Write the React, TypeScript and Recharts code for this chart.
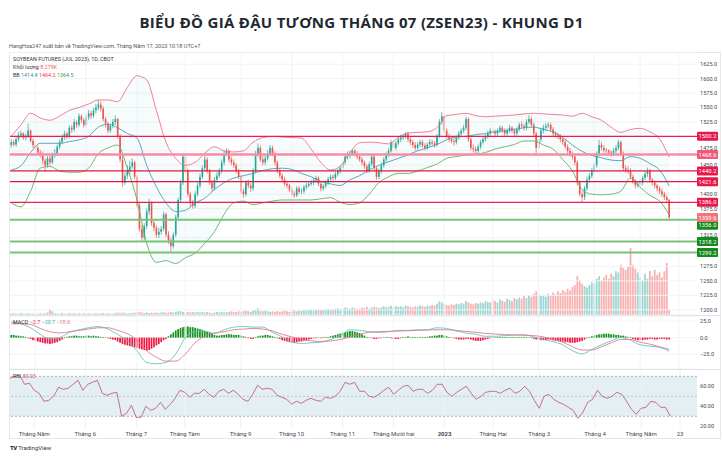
import React from 'react';
import { ComposedChart, Bar, Line, Area, XAxis, YAxis, CartesianGrid, ReferenceLine, ReferenceArea } from 'recharts';

// ---------------- data ----------------
const opens = [
1485,1490,1486,1495,1502,1505,1498,1500,1510,1492,
1485,1480,1472,1470,1458,1450,1462,1455,1468,1470,
1482,1490,1498,1505,1500,1515,1512,1525,1520,1535,
1528,1520,1533,1540,1536,1545,1550,1555,1548,1530,
1522,1510,1518,1525,1530,1500,1460,1420,1432,1440,
1448,1455,1430,1380,1340,1325,1345,1370,1385,1350,
1342,1330,1335,1340,1365,1330,1320,1310,1330,1360,
1390,1420,1465,1440,1400,1385,1380,1400,1415,1430,
1445,1460,1440,1420,1410,1425,1432,1440,1455,1470,
1475,1460,1455,1450,1440,1430,1405,1400,1420,1415,
1410,1440,1470,1480,1460,1455,1462,1470,1480,1470,
1455,1440,1432,1425,1418,1415,1408,1400,1398,1410,
1404,1405,1412,1415,1418,1420,1424,1428,1418,1410,
1414,1420,1426,1430,1428,1435,1440,1445,1455,1465,
1468,1470,1475,1470,1465,1460,1455,1448,1440,1452,
1465,1445,1430,1440,1450,1460,1468,1475,1490,1480,
1488,1495,1498,1500,1505,1495,1490,1485,1480,1486,
1490,1484,1480,1486,1490,1488,1485,1500,1525,1535,
1510,1500,1495,1492,1490,1498,1505,1510,1515,1530,
1495,1480,1478,1475,1482,1490,1495,1500,1505,1510,
1508,1505,1510,1515,1510,1505,1510,1515,1510,1505,
1512,1520,1518,1515,1525,1530,1520,1505,1480,1495,
1510,1515,1518,1520,1512,1505,1502,1500,1495,1490,
1482,1475,1470,1465,1455,1420,1400,1395,1410,1425,
1432,1440,1450,1470,1485,1480,1476,1475,1472,1470,
1475,1480,1490,1470,1445,1442,1440,1430,1422,1415,
1418,1420,1428,1435,1440,1425,1420,1415,1410,1405,
1400,1395,1390];

const highs = [
1496,1494,1499,1508,1510,1507,1505,1522,1512,1496,
1490,1484,1477,1474,1462,1466,1466,1472,1478,1486,
1495,1503,1510,1508,1519,1520,1530,1528,1540,1538,
1532,1537,1546,1544,1549,1556,1563,1560,1552,1534,
1525,1522,1530,1536,1532,1504,1466,1438,1450,1458,
1462,1458,1434,1385,1346,1350,1375,1392,1388,1356,
1346,1342,1345,1370,1368,1336,1325,1334,1364,1394,
1425,1471,1468,1444,1404,1390,1405,1420,1436,1450,
1466,1464,1444,1424,1430,1438,1445,1460,1476,1480,
1478,1465,1460,1454,1444,1434,1410,1424,1425,1420,
1445,1475,1488,1484,1466,1468,1476,1485,1484,1474,
1458,1445,1436,1430,1422,1418,1412,1405,1414,1414,
1410,1416,1420,1422,1425,1428,1432,1431,1422,1418,
1424,1430,1434,1434,1440,1444,1450,1460,1470,1474,
1475,1478,1478,1474,1468,1464,1458,1452,1456,1468,
1468,1448,1444,1455,1464,1472,1480,1494,1494,1492,
1500,1503,1504,1507,1508,1500,1494,1490,1490,1494,
1494,1488,1490,1495,1494,1492,1504,1530,1542,1538,
1514,1505,1500,1497,1502,1509,1514,1520,1534,1533,
1498,1486,1483,1486,1494,1499,1504,1510,1515,1514,
1512,1514,1519,1518,1514,1514,1520,1518,1514,1516,
1524,1526,1522,1530,1537,1534,1524,1508,1499,1515,
1520,1523,1524,1524,1516,1509,1506,1504,1498,1494,
1486,1480,1474,1468,1458,1424,1406,1414,1430,1437,
1445,1455,1474,1494,1490,1485,1480,1478,1476,1480,
1485,1494,1493,1474,1450,1448,1445,1434,1426,1422,
1425,1432,1440,1446,1444,1428,1424,1418,1414,1410,
1404,1398,1392];

const lows = [
1480,1483,1482,1491,1498,1494,1493,1497,1489,1480,
1475,1468,1463,1452,1439,1446,1450,1452,1463,1466,
1478,1486,1494,1495,1497,1506,1508,1515,1516,1523,
1515,1517,1528,1530,1532,1540,1545,1543,1526,1515,
1505,1506,1514,1520,1496,1455,1413,1416,1426,1434,
1444,1426,1376,1335,1318,1320,1340,1364,1345,1336,
1325,1324,1330,1336,1326,1314,1301,1306,1326,1355,
1386,1416,1436,1396,1378,1375,1376,1396,1410,1426,
1440,1436,1416,1405,1406,1420,1428,1436,1450,1466,
1455,1450,1445,1436,1426,1400,1394,1396,1410,1404,
1406,1436,1465,1456,1450,1450,1458,1466,1466,1450,
1436,1428,1420,1414,1410,1404,1396,1394,1395,1400,
1400,1401,1408,1411,1414,1416,1420,1414,1405,1406,
1410,1416,1422,1424,1424,1431,1436,1441,1451,1460,
1462,1466,1466,1460,1456,1450,1444,1436,1437,1448,
1440,1425,1426,1436,1446,1455,1464,1472,1476,1476,
1484,1490,1493,1496,1490,1485,1480,1476,1476,1482,
1480,1476,1477,1482,1484,1480,1482,1497,1520,1505,
1496,1490,1488,1484,1486,1494,1501,1506,1511,1490,
1476,1472,1470,1471,1478,1486,1491,1496,1500,1503,
1500,1501,1506,1506,1500,1501,1506,1506,1500,1501,
1508,1514,1510,1511,1521,1516,1500,1471,1476,1490,
1505,1510,1514,1508,1500,1498,1495,1490,1485,1478,
1470,1465,1460,1450,1415,1396,1385,1390,1406,1420,
1428,1436,1446,1466,1476,1472,1470,1467,1465,1466,
1470,1476,1466,1440,1437,1435,1426,1418,1410,1411,
1414,1415,1424,1430,1420,1415,1410,1405,1400,1395,
1390,1385,1357];

const closes = [
1490,1486,1495,1502,1505,1498,1500,1510,1492,1485,
1480,1472,1470,1458,1450,1462,1455,1468,1470,1482,
1490,1498,1505,1500,1515,1512,1525,1520,1535,1528,
1520,1533,1540,1536,1545,1550,1555,1548,1530,1522,
1510,1518,1525,1530,1500,1460,1420,1432,1440,1448,
1455,1430,1380,1340,1325,1345,1370,1385,1350,1342,
1330,1335,1340,1365,1330,1320,1310,1330,1360,1390,
1420,1465,1440,1400,1385,1380,1400,1415,1430,1445,
1460,1440,1420,1410,1425,1432,1440,1455,1470,1475,
1460,1455,1450,1440,1430,1405,1400,1420,1415,1410,
1440,1470,1480,1460,1455,1462,1470,1480,1470,1455,
1440,1432,1425,1418,1415,1408,1400,1398,1410,1404,
1405,1412,1415,1418,1420,1424,1428,1418,1410,1414,
1420,1426,1430,1428,1435,1440,1445,1455,1465,1468,
1470,1475,1470,1465,1460,1455,1448,1440,1452,1465,
1445,1430,1440,1450,1460,1468,1475,1490,1480,1488,
1495,1498,1500,1505,1495,1490,1485,1480,1486,1490,
1484,1480,1486,1490,1488,1485,1500,1525,1535,1510,
1500,1495,1492,1490,1498,1505,1510,1515,1530,1495,
1480,1478,1475,1482,1490,1495,1500,1505,1510,1508,
1505,1510,1515,1510,1505,1510,1515,1510,1505,1512,
1520,1518,1515,1525,1530,1520,1505,1480,1495,1510,
1515,1518,1520,1512,1505,1502,1500,1495,1490,1482,
1475,1470,1465,1455,1420,1400,1395,1410,1425,1432,
1440,1450,1470,1485,1480,1476,1475,1472,1470,1475,
1480,1490,1470,1445,1442,1440,1430,1422,1415,1418,
1420,1428,1435,1440,1425,1420,1415,1410,1405,1400,
1395,1390,1359.6];

// volume in thousands of contracts
const volumesK = [
2,3,2,2,3,2,2,3,2,2,
2,2,3,2,3,4,9,6,3,2,
2,3,2,2,3,2,3,2,3,2,
3,2,3,2,2,3,2,3,3,2,
3,2,2,3,4,3,4,3,2,3,
3,4,4,5,4,3,4,3,4,3,
4,3,4,5,3,4,5,4,5,6,
6,5,4,5,4,5,4,5,4,5,
4,5,4,3,4,5,4,5,4,5,
5,6,5,5,6,5,6,7,6,5,
7,8,11,7,6,7,6,5,6,5,
6,5,6,7,6,5,6,7,6,7,
7,8,7,9,8,7,8,9,8,9,
9,10,8,9,10,11,9,10,12,11,
10,12,11,9,10,12,11,13,10,12,
13,12,11,12,14,12,13,15,12,14,
13,14,12,15,14,13,12,14,13,15,
14,13,15,14,16,15,18,22,20,18,
16,15,17,16,18,17,19,18,22,20,
18,17,19,18,20,19,22,21,20,24,
22,20,25,23,21,26,24,22,27,25,
28,26,30,27,32,29,34,38,33,30,
32,29,34,31,36,33,38,35,40,37,
42,39,45,48,62,55,50,46,44,48,
52,50,58,62,55,60,64,58,66,62,
70,68,80,75,72,78,107,80,74,68,
60,55,66,58,70,62,72,64,68,60,
70,83,8.279];

// Bollinger Bands, read every 4th bar
const BB_STEP = 4;
const bbUpper = [1500,1520,1540,1532,1528,1535,1545,1550,1556,1563,1563,1560,1585,1605,1598,1545,1490,1462,1450,1455,1471,1482,1475,1473,1475,1490,1498,1500,1499,1498,1497,1478,1455,1442,1448,1472,1489,1490,1489,1487,1498,1506,1507,1508,1515,1536,1538,1540,1536,1534,1535,1536,1537,1539,1540,1539,1538,1537,1535,1540,1534,1528,1516,1507,1512,1514,1508,1496,1464.2];
const bbBasis = [1442,1449,1472,1488,1488,1488,1491,1494,1500,1516,1521,1515,1505,1497,1450,1413,1385,1370,1372,1385,1393,1408,1420,1428,1432,1436,1441,1444,1445,1443,1436,1430,1422,1418,1415,1425,1432,1442,1450,1456,1462,1468,1475,1480,1486,1494,1499,1500,1503,1505,1508,1510,1512,1515,1516,1512,1508,1498,1485,1474,1467,1463,1459,1458,1465,1462,1453,1442,1414.4];
const bbLower = [1385,1378,1405,1445,1448,1440,1438,1438,1445,1470,1480,1485,1445,1390,1315,1282,1285,1280,1290,1298,1315,1335,1365,1385,1388,1382,1385,1388,1390,1390,1390,1390,1392,1394,1386,1382,1385,1400,1420,1430,1436,1436,1440,1446,1452,1462,1465,1468,1469,1472,1478,1482,1486,1492,1492,1485,1478,1460,1440,1408,1400,1399,1400,1405,1428,1412,1398,1388,1364.5];

// MACD, read every 4th bar; histogram per bar
const MACD_STEP = 4;
const macdLine = [24,21,15,5,-2,0,8,12,15,17,13,5,-5,-20,-38,-40,-38,-25,0,9,10,6,12,16,17,16,16,8,1,-7,-9,-8,-7,-3,3,12,11,9,8,9,11,11,12,12,15,14,10,7,5,2,2,3,4,4.5,1,-3,-6,-11,-20,-25,-18,-11,-5,0,-4,-11,-13,-15,-20.7];
const signalLine = [21,21,20,14,9,7,9,11,13,15,15,11,6,-4,-20,-30,-36,-36,-25,-8,2,7,9,12,13,14,13,10,5,1,-3,-5,-6,-5,-3,1,5,8,9,9.5,10,10.5,11,11.5,12,12,11,9.5,8,6.5,5.5,4.5,4,3.5,3,1,-3,-7,-14,-19,-19,-14,-8,-3,-3,-7,-10,-14,-18];
const macdHist = [
4,4,3,3,2,2,1,-1,-2,-4,
-5,-6,-7,-8,-9,-9,-10,-9,-8,-7,
-5,-3,-1,1,2,2,3,3,2,2,
2,3,3,2,3,2,2,1,1,0,
-1,-2,-3,-4,-6,-8,-10,-11,-12,-13,
-14,-15,-16,-17,-18,-19,-20,-19,-17,-15,
-12,-10,-7,-4,-2,2,5,8,11,13,
15,16,17,17,16,16,15,14,13,12,
10,9,8,6,4,3,3,4,4,5,
5,5,4,4,4,3,2,1,-1,-2,
-2,1,2,3,3,4,4,3,2,1,
-1,-2,-4,-5,-6,-7,-8,-8,-7,-6,
-6,-5,-4,-3,-2,-1,-1,0,-1,1,
1,1,2,3,4,5,6,7,8,9,
10,10,9,8,7,5,3,1,0,-1,
-2,-2,-1,-1,0,1,1,-1,-2,-2,
-2,-1,1,1,2,1,1,1,0,1,
1,1,1,2,2,3,3,4,4,3,
2,1,0,-1,-2,-3,-3,-3,-2,-2,
-3,-4,-5,-5,-5,-4,-3,-2,-1,-1,
0,1,1,1,1,1,1,1,1,1,
1,1,1,1,0,-1,-2,-3,-3,-4,
-4,-4,-3,-3,-4,-5,-5,-6,-6,-7,
-7,-8,-8,-8,-7,-6,-5,-3,-1,1,
2,3,4,5,5,6,6,6,5,5,
4,4,3,3,2,1,-1,-2,-3,-4,
-4,-4,-3,-3,-2,-2,-3,-3,-2,-2,
-2,-3,-2.7];

// RSI, read every 2nd bar
const RSI_STEP = 2;
const rsiValues = [
68,70,71,62,63,56,53,45,46,50,
59,57,58,62,66,56,62,64,66,53,
51,53,54,30,33,41,29,29,40,36,
38,44,37,42,48,56,54,49,53,53,
57,52,49,55,57,53,56,52,47,45,
52,61,57,58,57,51,49,47,42,45,
43,46,48,46,45,49,48,50,55,64,
62,64,55,55,50,49,52,56,59,52,
56,60,61,55,57,57,53,56,62,62,
54,50,54,57,60,53,47,50,54,55,
55,53,56,58,53,55,60,55,46,38,
50,52,47,44,42,39,36,28,34,44,
47,56,50,48,50,54,52,45,37,32,
38,39,45,44,39,39,30.03];

const TOTAL_SLOTS = 284; // 273 daily bars + empty space to the right
const monthTicks = [10, 31, 52, 72, 95, 116, 137, 158, 179, 199, 218, 241, 260, 276];
const monthLabels = ['Tháng Năm', 'Tháng 6', 'Tháng 7', 'Tháng Tám', 'Tháng 9', 'Tháng 10', 'Tháng 11', 'Tháng Mười hai', '2023', 'Tháng Hai', 'Tháng 3', 'Tháng 4', 'Tháng Năm', '23'];
const priceTicks = [1200, 1225, 1250, 1275, 1325, 1375, 1400, 1450, 1475, 1525, 1550, 1575, 1600, 1625];
const resistanceLevels = [1500.2, 1468.6, 1440.2, 1421.6, 1386.0];
const supportLevels = [1356.0, 1318.2, 1299.2];
const macdTicks = [-25, 0, 25];
const rsiTicks = [20, 40, 60];

// ---------------- table ----------------
const rows = Array.from({ length: TOTAL_SLOTS }, (_, i) => {
  const r: any = { i };
  if (i < closes.length) {
    r.o = opens[i]; r.h = highs[i]; r.l = lows[i]; r.c = closes[i];
    r.vol = volumesK[i]; r.hist = macdHist[i];
  }
  if (i % BB_STEP === 0 && i / BB_STEP < bbUpper.length) {
    const k = i / BB_STEP;
    r.bbU = bbUpper[k]; r.bbM = bbBasis[k]; r.bbL = bbLower[k];
  }
  if (i % MACD_STEP === 0 && i / MACD_STEP < macdLine.length) {
    const k = i / MACD_STEP;
    r.macd = macdLine[k]; r.signal = signalLine[k];
  }
  if (i % RSI_STEP === 0 && i / RSI_STEP < rsiValues.length) {
    r.rsi = rsiValues[i / RSI_STEP];
  }
  return r;
});

const lastClose = closes[closes.length - 1];
const lastVol = volumesK[volumesK.length - 1];

// ---------------- styling ----------------
const FONT = "Roboto, 'Liberation Sans', Arial, sans-serif";
const UP = '#26a69a';
const DOWN = '#ef5350';
const M = { top: 0, right: 0, bottom: 0, left: 2 };
const W = 714;
const AXIS_W = 25;
const tickStyle = { fontSize: 5.6, fill: '#444a55', fontFamily: FONT };

const candleRange = (d: any) => (d.h == null ? null : [d.l, d.h]);
const bbRange = (d: any) => (d.bbU == null ? null : [d.bbL, d.bbU]);

const Candle = (props: any) => {
  const { x, y, width, height, payload } = props;
  if (!payload || payload.h == null) return null;
  const { o, h, l, c } = payload;
  const top0 = Math.min(y, y + height);
  const hh = Math.abs(height);
  const range = h - l || 1;
  const py = (v: number) => top0 + ((h - v) / range) * hh;
  const cx = x + width / 2;
  const color = c >= o ? UP : DOWN;
  const bTop = py(Math.max(o, c));
  const bBot = py(Math.min(o, c));
  return (
    <g>
      <line x1={cx} x2={cx} y1={top0} y2={top0 + hh} stroke={color} strokeWidth={0.7} />
      <rect x={cx - 0.8} y={bTop} width={1.6} height={Math.max(bBot - bTop, 0.6)} fill={color} />
    </g>
  );
};

const VolBar = (props: any) => {
  const { x, y, width, height, payload } = props;
  if (!payload || payload.vol == null) return null;
  const top0 = Math.min(y, y + height);
  const cx = x + width / 2;
  const color = payload.c >= payload.o ? 'rgba(38,166,154,0.45)' : 'rgba(239,83,80,0.45)';
  return <rect x={cx - 0.9} y={top0} width={1.8} height={Math.abs(height)} fill={color} />;
};

const HistBar = (props: any) => {
  const { x, y, width, height, payload } = props;
  if (!payload || payload.hist == null) return null;
  const top0 = Math.min(y, y + height);
  const cx = x + width / 2;
  return <rect x={cx - 0.85} y={top0} width={1.7} height={Math.max(Math.abs(height), 0.4)} fill={payload.hist >= 0 ? '#14901a' : '#f0173f'} />;
};

const PriceTag = (props: any) => {
  const { viewBox, text, bg, shift = 0 } = props;
  if (!viewBox) return null;
  const x = viewBox.x + viewBox.width;
  const y = viewBox.y + shift;
  return (
    <g>
      <rect x={x} y={y - 4.5} width={21} height={9} fill={bg} rx={1} />
      <text x={x + 10.5} y={y + 2.1} textAnchor="middle" fontSize={5.8} fill="#ffffff" fontFamily={FONT}>{text}</text>
    </g>
  );
};

// price-scale tick: labels partly hidden behind a level tag are nudged above it
const tagNudge: Record<number, number> = { 1475: -3.2, 1325: -2.8 };
const PriceTick = (props: any) => {
  const { x, y, payload } = props;
  const v = payload.value as number;
  return (
    <text x={x} y={y + (tagNudge[v] || 0) + 2} textAnchor="start" fontSize={5.6} fill="#444a55" fontFamily={FONT}>{v.toFixed(1)}</text>
  );
};

const TimeTick = (props: any) => {
  const { x, y, payload } = props;
  const idx = monthTicks.indexOf(payload.value);
  const label = monthLabels[idx] ?? '';
  return (
    <text x={x} y={y + 6} textAnchor="middle" fontSize={6} fill="#444a55" fontFamily={FONT} fontWeight={label === '2023' ? 700 : 400}>{label}</text>
  );
};

const resColors = ['#ee1d4f', '#f48ea4', '#e0183f', '#e0183f', '#ee1d4f'];
const resWidths = [1.3, 2.6, 1.3, 1.3, 1.3];
const resTagColors = ['#e8194a', '#f0587a', '#e8194a', '#e8194a', '#e8194a'];

const vGrid = (stroke: string) =>
  monthTicks.map((t) => <ReferenceLine key={'v' + t} x={t} stroke={stroke} strokeWidth={1} />);

const fmt = (v: number) => v.toFixed(1).replace('-', '\u2212');

export default function App() {
  return (
    <div style={{ position: 'absolute', left: 0, top: 0, width: 723, height: 457, background: '#ffffff', overflow: 'hidden', fontFamily: FONT }}>
      <div style={{ position: 'absolute', top: 11, left: 0, width: 723, textAlign: 'center', fontSize: 15, lineHeight: '22px', fontWeight: 700, color: '#222831', fontFamily: "'Open Sans', sans-serif", letterSpacing: 0.3 }}>
        BIỂU ĐỒ GIÁ ĐẬU TƯƠNG THÁNG 07 (ZSEN23) - KHUNG D1
      </div>
      <div style={{ position: 'absolute', top: 43, left: 9, fontSize: 5.5, lineHeight: '6px', color: '#555', whiteSpace: 'nowrap' }}>
        HangHoa247 xuất bản về TradingView.com, Tháng Năm 17, 2023 10:18 UTC+7
      </div>

      {/* frame */}
      <div style={{ position: 'absolute', left: 9, top: 52, width: 712, height: 387, border: '1px solid #e4e7ee', boxSizing: 'border-box' }} />

      {/* volume overlay (bottom layer of main pane) */}
      <div style={{ position: 'absolute', left: 8, top: 52 }}>
        <ComposedChart width={W} height={263} data={rows} margin={{ ...M, right: AXIS_W }}>
          <XAxis dataKey="i" type="category" hide />
          <YAxis hide domain={[0, 420]} allowDataOverflow type="number" />
          <Bar dataKey="vol" shape={VolBar} isAnimationActive={false} />
        </ComposedChart>
      </div>

      {/* main price pane */}
      <div style={{ position: 'absolute', left: 8, top: 52 }}>
        <ComposedChart width={W} height={263} data={rows} margin={M}>
          <XAxis dataKey="i" type="category" hide />
          <YAxis orientation="right" type="number" domain={[1191, 1646]} allowDataOverflow ticks={priceTicks} interval={0}
            width={AXIS_W} axisLine={false} tickLine={false} tickSize={0} tickMargin={3} tick={<PriceTick />} />
          <CartesianGrid vertical={false} stroke="#f1f3f7" />
          {vGrid('#f1f3f7')}
          <Area dataKey={bbRange} type="monotone" stroke="none" fill="rgba(38,166,154,0.07)" connectNulls isAnimationActive={false} />
          <Line dataKey="bbU" type="monotone" stroke="#f07088" strokeWidth={0.9} dot={false} connectNulls isAnimationActive={false} />
          <Line dataKey="bbM" type="monotone" stroke="#4f9db3" strokeWidth={0.9} dot={false} connectNulls isAnimationActive={false} />
          <Line dataKey="bbL" type="monotone" stroke="#62b062" strokeWidth={0.9} dot={false} connectNulls isAnimationActive={false} />
          {resistanceLevels.map((v, k) => (
            <ReferenceLine key={'r' + v} y={v} stroke={resColors[k]} strokeWidth={resWidths[k]}
              label={<PriceTag text={v.toFixed(1)} bg={resTagColors[k]} />} />
          ))}
          {supportLevels.map((v, k) => (
            <ReferenceLine key={'s' + v} y={v} stroke="#79c279" strokeWidth={2}
              label={<PriceTag text={v.toFixed(1)} bg="#148a1c" shift={k === 0 ? 5.5 : 0} />} />
          ))}
          <Bar dataKey={candleRange} shape={Candle} isAnimationActive={false} />
          <ReferenceLine y={lastClose} stroke="none" strokeOpacity={0}
            label={<PriceTag text={lastClose.toFixed(1)} bg="#f4737b" />} />
        </ComposedChart>
      </div>

      {/* legends of main pane */}
      <div style={{ position: 'absolute', left: 13, top: 55.5, fontSize: 5.4, lineHeight: '6px', color: '#333', whiteSpace: 'nowrap' }}>
        SOYBEAN FUTURES (JUL 2023), 1D, CBOT
      </div>
      <div style={{ position: 'absolute', left: 13, top: 63.5, fontSize: 5.4, lineHeight: '6px', color: '#333', whiteSpace: 'nowrap' }}>
        Khối lượng <span style={{ color: DOWN }}>{lastVol.toFixed(3)}K</span>
      </div>
      <div style={{ position: 'absolute', left: 13, top: 71.5, fontSize: 5.4, lineHeight: '6px', color: '#333', whiteSpace: 'nowrap' }}>
        BB <span style={{ color: '#2e8fb0' }}>{bbBasis[bbBasis.length - 1].toFixed(1)}</span>{' '}
        <span style={{ color: '#f23645' }}>{bbUpper[bbUpper.length - 1].toFixed(1)}</span>{' '}
        <span style={{ color: '#43a047' }}>{bbLower[bbLower.length - 1].toFixed(1)}</span>
      </div>

      {/* pane separators */}
      <div style={{ position: 'absolute', left: 9, top: 315, width: 712, height: 1, background: '#e0e3eb' }} />
      <div style={{ position: 'absolute', left: 9, top: 369, width: 712, height: 1, background: '#e0e3eb' }} />

      {/* MACD pane */}
      <div style={{ position: 'absolute', left: 8, top: 316 }}>
        <ComposedChart width={W} height={53} data={rows} margin={M}>
          <XAxis dataKey="i" type="category" hide />
          <YAxis orientation="right" type="number" domain={[-48, 33]} allowDataOverflow ticks={macdTicks} interval={0}
            width={AXIS_W} axisLine={false} tickLine={false} tickSize={0} tickMargin={3} tick={tickStyle}
            tickFormatter={fmt} />
          <CartesianGrid vertical={false} stroke="#f1f3f7" />
          {vGrid('#f1f3f7')}
          <Bar dataKey="hist" shape={HistBar} isAnimationActive={false} />
          <Line dataKey="macd" type="monotone" stroke="#62c6c2" strokeWidth={0.9} dot={false} connectNulls isAnimationActive={false} />
          <Line dataKey="signal" type="monotone" stroke="#e2788f" strokeWidth={0.9} dot={false} connectNulls isAnimationActive={false} />
        </ComposedChart>
      </div>
      <div style={{ position: 'absolute', left: 13, top: 318.5, fontSize: 5.4, lineHeight: '6px', color: '#333', whiteSpace: 'nowrap' }}>
        MACD <span style={{ color: '#f0173f' }}>{fmt(macdHist[macdHist.length - 1])}</span>{' '}
        <span style={{ color: '#3fb3ae' }}>{fmt(macdLine[macdLine.length - 1])}</span>{' '}
        <span style={{ color: '#e2788f' }}>{fmt(signalLine[signalLine.length - 1])}</span>
      </div>

      {/* RSI pane + time axis */}
      <div style={{ position: 'absolute', left: 8, top: 370 }}>
        <ComposedChart width={W} height={70} data={rows} margin={M}>
          <XAxis dataKey="i" type="category" ticks={monthTicks} interval={0} height={12}
            axisLine={false} tickLine={false} tickSize={0} tickMargin={2} tick={<TimeTick />} />
          <YAxis orientation="right" type="number" domain={[18.3, 76.3]} allowDataOverflow ticks={rsiTicks} interval={0}
            width={AXIS_W} axisLine={false} tickLine={false} tickSize={0} tickMargin={3} tick={tickStyle}
            tickFormatter={(v: number) => v.toFixed(2)} />
          <ReferenceArea y1={30} y2={70} fill="#e3eff2" fillOpacity={1} stroke="none" />
          {vGrid('#eef0f4')}
          <ReferenceLine y={70} stroke="#9aa0a8" strokeDasharray="2 2" strokeWidth={0.8} />
          <ReferenceLine y={50} stroke="#b3b8bf" strokeDasharray="2 2" strokeWidth={0.8} />
          <ReferenceLine y={30} stroke="#9aa0a8" strokeDasharray="2 2" strokeWidth={0.8} />
          <Line dataKey="rsi" type="linear" stroke="#c25e84" strokeWidth={0.9} dot={false} connectNulls isAnimationActive={false} />
        </ComposedChart>
      </div>
      <div style={{ position: 'absolute', left: 13, top: 372.5, fontSize: 5.4, lineHeight: '6px', color: '#333', whiteSpace: 'nowrap' }}>
        RSI <span style={{ color: '#c25e84' }}>{rsiValues[rsiValues.length - 1].toFixed(2)}</span>
      </div>

      {/* footer */}
      <div style={{ position: 'absolute', left: 10, top: 444, fontSize: 6, lineHeight: '8px', color: '#333', whiteSpace: 'nowrap' }}>
        <span style={{ fontWeight: 900, letterSpacing: -0.5 }}>TV</span> TradingView
      </div>
    </div>
  );
}
